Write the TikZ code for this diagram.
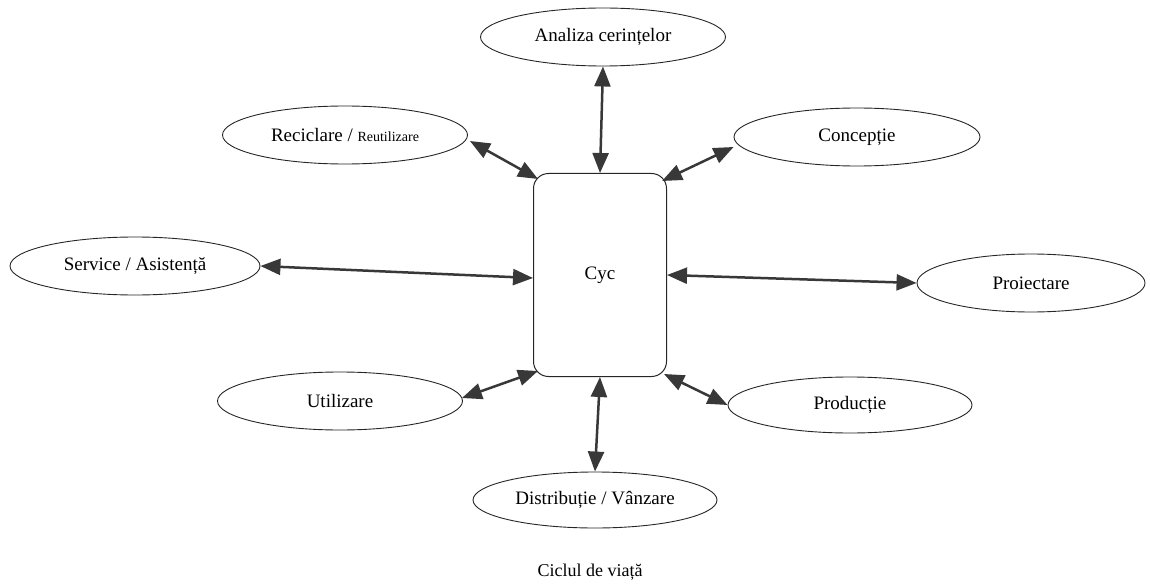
\documentclass[tikz,border=0pt]{standalone}
\usepackage{fontspec}
\setmainfont{Liberation Serif}
\usetikzlibrary{arrows.meta,shapes.geometric}
\begin{document}
\begin{tikzpicture}[x=1pt,y=-1pt,
  phase/.style={draw=black!85,line width=0.9pt,ellipse,inner sep=0pt,minimum width=245pt,minimum height=58pt,font=\fontsize{19}{21}\selectfont},
  link/.style={line width=2.5pt,draw=black!78,{Triangle[length=20pt,width=16pt]}-{Triangle[length=20pt,width=16pt]}}]
\useasboundingbox (0,0) rectangle (1150,588);
\node[draw=black!85,line width=1pt,rounded corners=15pt,minimum width=133pt,minimum height=203pt,font=\fontsize{19}{21}\selectfont] (cyc) at (600,275) {Cyc};
\node[phase] (an) at (603,37) {Analiza cerințelor};
\node[phase] (rec) at (345,135) {Reciclare / {\fontsize{14}{16}\selectfont Reutilizare}};
\node[phase,minimum width=246pt] (con) at (857,137) {Concepție};
\node[phase,minimum width=250pt] (ser) at (135,266) {Service / Asistență};
\node[phase,minimum width=228pt] (pro) at (1031,283) {Proiectare};
\node[phase] (uti) at (340,401) {Utilizare};
\node[phase,minimum width=244pt,minimum height=56pt] (prd) at (850,405) {Producție};
\node[phase,minimum width=244pt,minimum height=56pt] (dis) at (595,500) {Distribuție / Vânzare};
\node[font=\fontsize{18}{20}\selectfont] (cap) at (590,572) {Ciclul de viață};
\draw[link] (an.south) -- (cyc.north);
\draw[link] ([shift={(2,6)}]rec.east) -- ([shift={(5,6)}]cyc.north west);
\draw[link] ([shift={(0,10)}]con.west) -- ([shift={(-5,8)}]cyc.north east);
\draw[link] (ser.east) -- ([yshift=-3pt]cyc.west);
\draw[link] (cyc.east) -- (pro.west);
\draw[link] ([shift={(-1,-3)}]uti.east) -- ([shift={(5,-6)}]cyc.south west);
\draw[link] ([shift={(-3,-3)}]cyc.south east) -- (prd.west);
\draw[link] (cyc.south) -- (dis.north);
\end{tikzpicture}
\end{document}
